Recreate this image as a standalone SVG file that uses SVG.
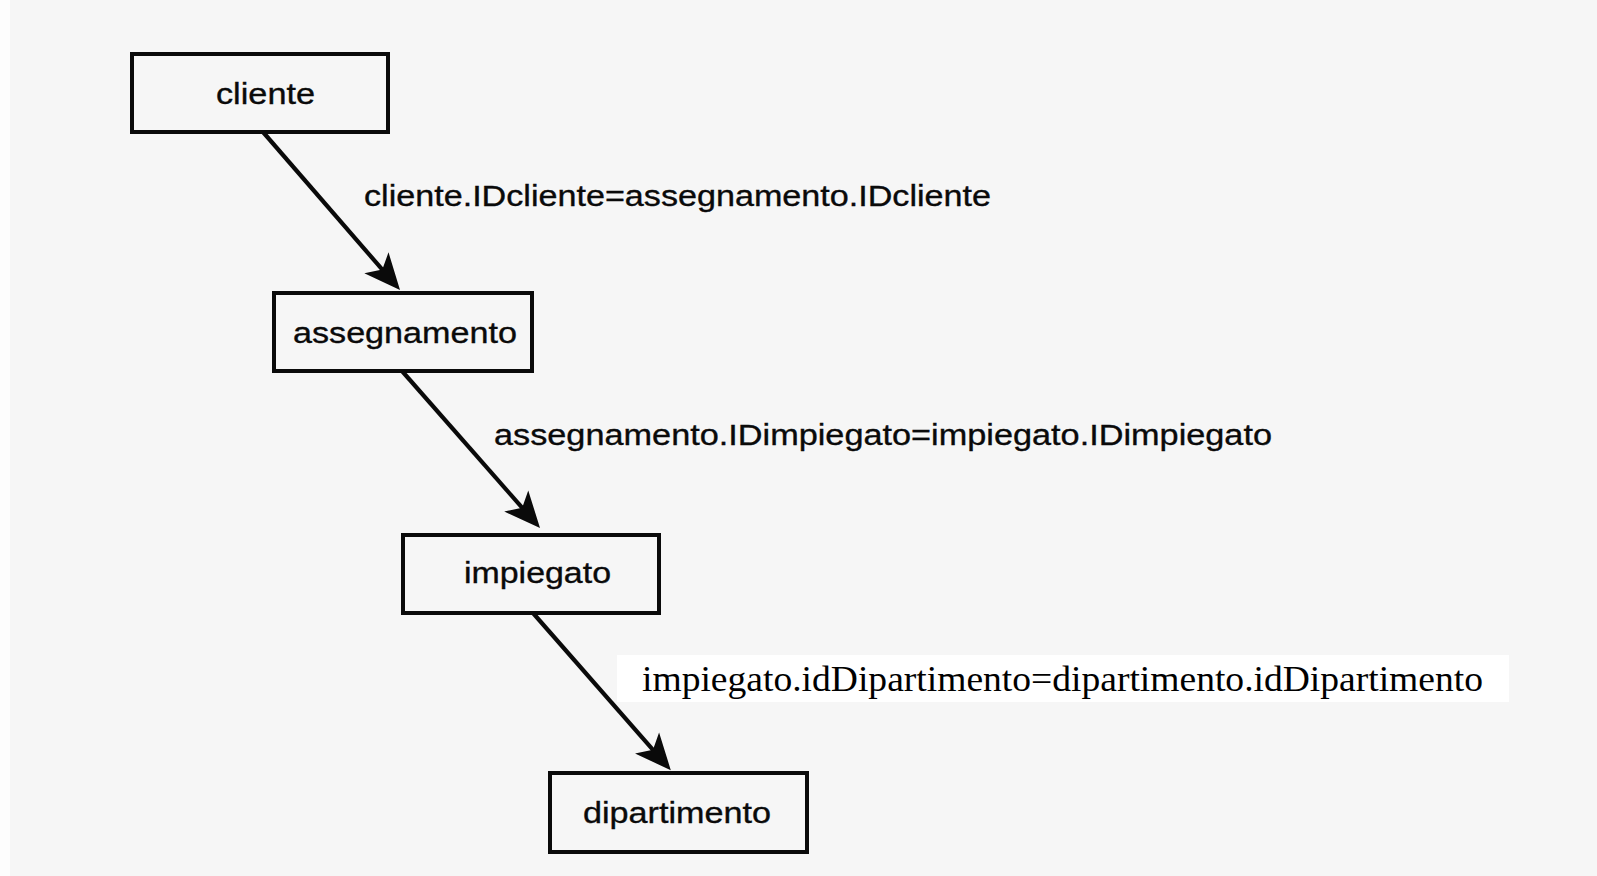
<svg xmlns="http://www.w3.org/2000/svg" width="1597" height="876" viewBox="0 0 1597 876">
  <defs>
    <style>
      .box { fill: none; stroke: #0a0a0a; stroke-width: 4; }
      .lbl { font-family: "Liberation Sans", Arial, sans-serif; font-size: 29.5px; fill: #0a0a0a; stroke: #0a0a0a; stroke-width: 0.35; }
      .edge { stroke: #0a0a0a; stroke-width: 4.2; fill: none; marker-end: url(#arr); }
      .serif { font-family: "Liberation Serif", "Times New Roman", serif; font-size: 35px; fill: #000; }
    </style>
    <marker id="arr" viewBox="-20 -19 42 38" refX="0" refY="0" markerWidth="42" markerHeight="38" markerUnits="userSpaceOnUse" orient="auto" overflow="visible">
      <path d="M20,0 L-16,-16 L-7,0 L-16,16 Z" fill="#0a0a0a"/>
    </marker>
  </defs>
  <rect x="0" y="0" width="1597" height="876" fill="#f6f6f6"/>
  <rect x="0" y="0" width="10" height="876" fill="#fdfdfd"/>

  <g id="connectors">
    <line class="edge" x1="263" y1="132" x2="386.9" y2="274.9"/>
    <line class="edge" x1="402" y1="371" x2="526.8" y2="513"/>
    <line class="edge" x1="533" y1="613" x2="657.6" y2="755.1"/>
    <text class="lbl" x="364" y="206" textLength="627" lengthAdjust="spacingAndGlyphs">cliente.IDcliente=assegnamento.IDcliente</text>
    <text class="lbl" x="494" y="445" textLength="778" lengthAdjust="spacingAndGlyphs">assegnamento.IDimpiegato=impiegato.IDimpiegato</text>
    <rect x="617" y="655" width="892" height="47" fill="#ffffff"/>
    <text class="serif" x="642" y="691" textLength="841" lengthAdjust="spacingAndGlyphs">impiegato.idDipartimento=dipartimento.idDipartimento</text>
  </g>

  <g id="cliente">
    <rect class="box" x="132" y="54" width="256" height="78"/>
    <text class="lbl" x="216" y="104" textLength="99" lengthAdjust="spacingAndGlyphs">cliente</text>
  </g>
  <g id="assegnamento">
    <rect class="box" x="274" y="293" width="258" height="78"/>
    <text class="lbl" x="293" y="343" textLength="224" lengthAdjust="spacingAndGlyphs">assegnamento</text>
  </g>
  <g id="impiegato">
    <rect class="box" x="403" y="535" width="256" height="78"/>
    <text class="lbl" x="464" y="583" textLength="147" lengthAdjust="spacingAndGlyphs">impiegato</text>
  </g>
  <g id="dipartimento">
    <rect class="box" x="550" y="773" width="257" height="79"/>
    <text class="lbl" x="583" y="823" textLength="188" lengthAdjust="spacingAndGlyphs">dipartimento</text>
  </g>
</svg>
